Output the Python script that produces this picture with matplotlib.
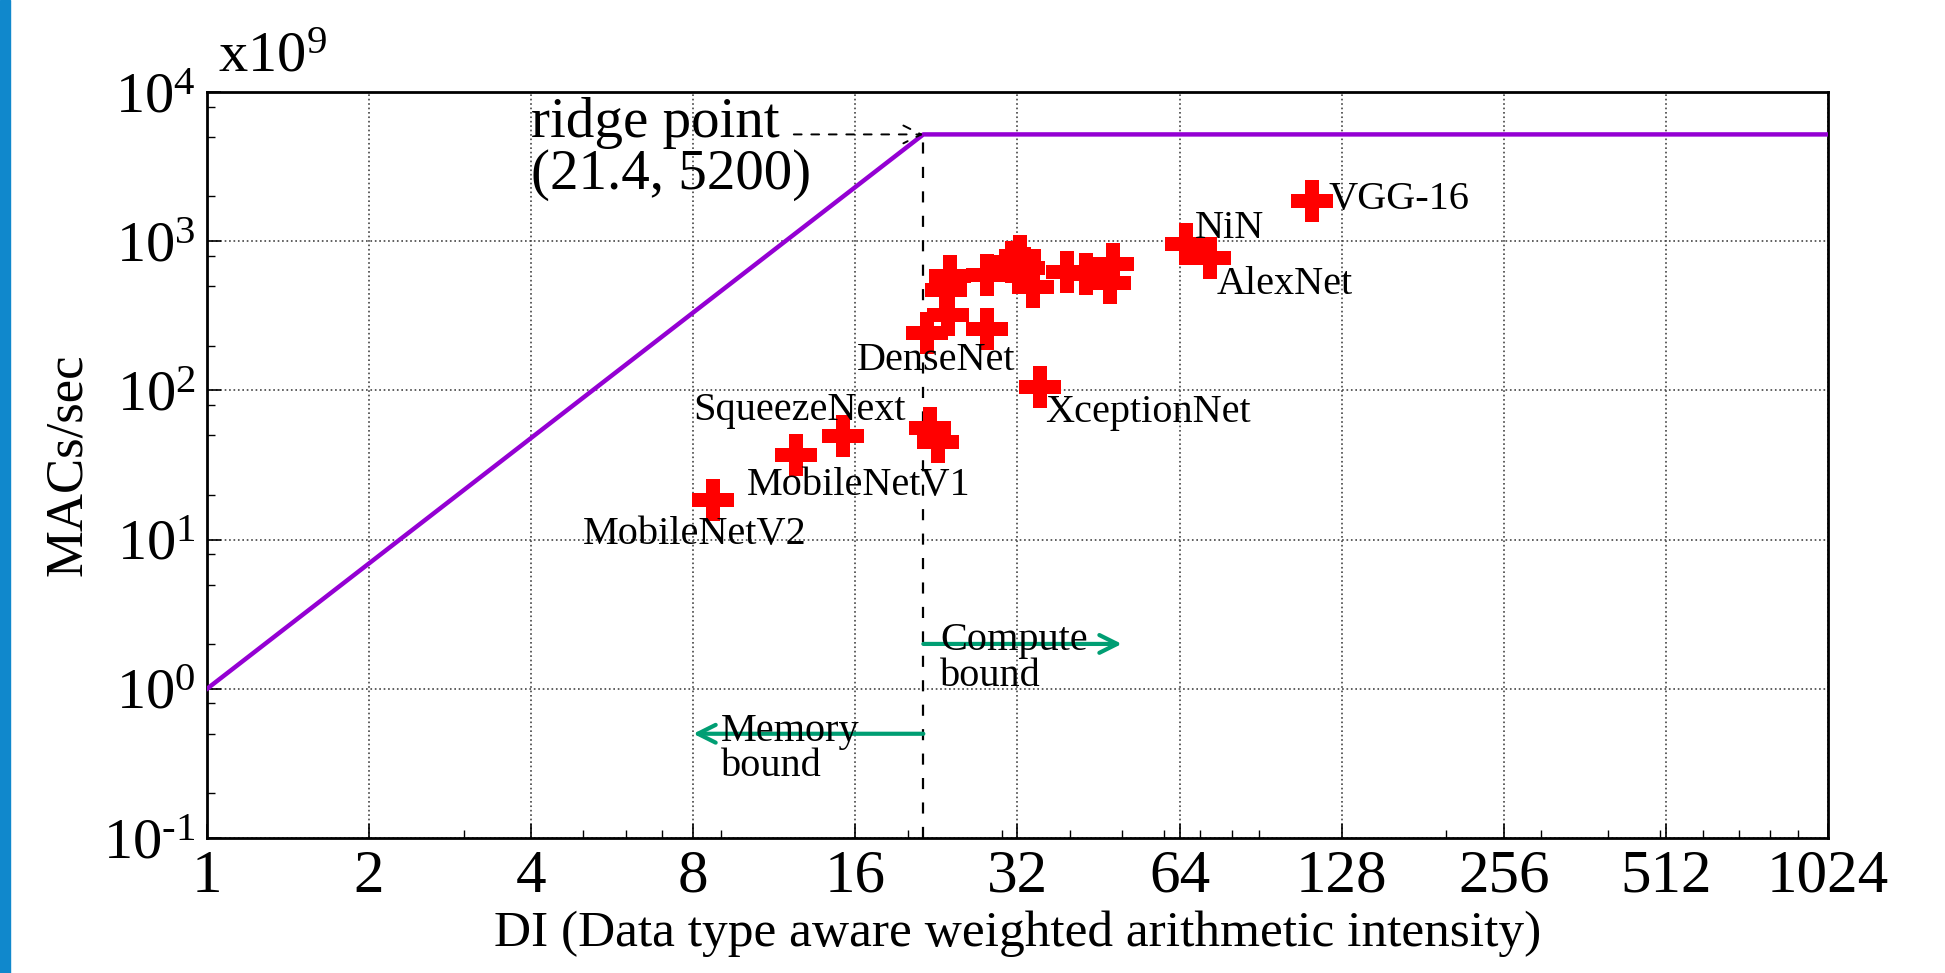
import numpy as np
import matplotlib
matplotlib.use("Agg")
import matplotlib.pyplot as plt
from matplotlib.ticker import LogLocator, NullFormatter
from matplotlib.patches import Rectangle

plt.rcParams['font.family'] = ['Liberation Serif', 'DejaVu Serif']
plt.rcParams['mathtext.fontset'] = 'custom'
plt.rcParams['mathtext.rm'] = 'Liberation Serif'
plt.rcParams['mathtext.it'] = 'Liberation Serif:italic'

# roofline
ridge_di = 21.4
peak = 5200
roof_x = [1, ridge_di, 1024]
roof_y = [1, peak, peak]

# measured layers (DI, MACs/sec in units of 1e9)
di_values = [8.7, 12.4, 15.2, 22.0, 22.75,
             21.7, 23.8, 28.05, 23.98, 23.6, 28.05, 31.3, 32.3, 32.9,
             34.2, 39.5, 42.9, 48.1, 47.6,
             65.7, 72.9, 113, 35.2]
perf_values = [18.3, 36.7, 49.5, 55.7, 45.1,
               243, 318, 259, 582, 469, 590, 722, 793, 657,
               493, 622, 607, 708, 527,
               964, 776, 1858, 105.5]

# network names and where their labels sit (data coords, left edge / baseline)
net_names = ['VGG-16', 'NiN', 'AlexNet', 'XceptionNet', 'DenseNet',
             'SqueezeNext', 'MobileNetV1', 'MobileNetV2']
label_pos = [(120.9, 1656), (68.4, 1057), (75.0, 441), (36.0, 61.4),
             (16.1, 136.5), (8.0, 63.1), (10.05, 19.8), (5.0, 9.4)]

xticks = [1, 2, 4, 8, 16, 32, 64, 128, 256, 512, 1024]
yticks = [0.1, 1, 10, 100, 1000, 10000]
ytick_labels = [r'10$^{\text{-1}}$', '10$^{0}$', '10$^{1}$', '10$^{2}$', '10$^{3}$', '10$^{4}$']

fig = plt.figure(figsize=(19.45, 9.73), dpi=100)
ax = fig.add_axes([0.1064, 0.1387, 0.8334, 0.7667])

# blue strip on the left edge of the slide
fig.patches.append(Rectangle((0, 0), 10 / 1945, 1, transform=fig.transFigure,
                             color='#1088CC', zorder=0))

ax.plot(roof_x, roof_y, color='#9400D3', lw=3.2, zorder=3)
ax.plot([ridge_di, ridge_di], [0.1, peak], color='black', ls=(0, (5, 6)), lw=1.6, zorder=2)
ax.plot(di_values, perf_values, ls='none', marker='P', ms=30, color='red',
        markeredgewidth=0, zorder=4)

for name, (lx, ly) in zip(net_names, label_pos):
    ax.text(lx, ly, name, fontsize=29, va='baseline', ha='left', zorder=5)

# ridge point annotation
ax.text(4.0, 9300, 'ridge point\n(21.4, 5200)', fontsize=41, va='top', ha='left',
        linespacing=1.0, zorder=5)
ax.annotate('', xy=(ridge_di, peak), xytext=(12.3, peak),
            arrowprops=dict(arrowstyle='->', ls=(0, (4, 5)), lw=1.4, color='black',
                            mutation_scale=32, shrinkA=0, shrinkB=0))

# compute / memory bound arrows
green = '#009E73'
ax.annotate('', xy=(50, 2), xytext=(ridge_di, 2),
            arrowprops=dict(arrowstyle='->', lw=3, color=green, mutation_scale=32,
                            shrinkA=0, shrinkB=0))
ax.annotate('', xy=(8, 0.5), xytext=(ridge_di, 0.5),
            arrowprops=dict(arrowstyle='->', lw=3, color=green, mutation_scale=32,
                            shrinkA=0, shrinkB=0))
ax.text(23.0, 2.8, 'Compute\nbound', fontsize=29, va='top', ha='left', linespacing=0.95)
ax.text(9.0, 0.69, 'Memory\nbound', fontsize=29, va='top', ha='left', linespacing=0.95)

ax.set_xscale('log', base=2)
ax.set_yscale('log')
ax.set_xlim(1, 1024)
ax.set_ylim(0.1, 10000)
ax.set_xticks(xticks, [str(t) for t in xticks])
ax.set_yticks(yticks, ytick_labels)
ax.xaxis.set_minor_locator(LogLocator(base=10, subs=np.arange(2, 10)))
ax.xaxis.set_minor_formatter(NullFormatter())
ax.yaxis.set_minor_locator(LogLocator(base=10, subs=(2, 5, 8)))
ax.yaxis.set_minor_formatter(NullFormatter())

ax.tick_params(which='major', direction='in', length=10, width=1.2, labelsize=42, pad=8)
ax.tick_params(axis='x', which='major', labelsize=44)
ax.tick_params(which='minor', direction='in', length=6, width=1.0)
ax.grid(True, which='major', ls=':', color='#444444', lw=1.2)
for s in ax.spines.values():
    s.set_linewidth(2)

ax.text(0.007, 1.012, 'x10$^{9}$', transform=ax.transAxes, fontsize=42, va='bottom', ha='left')
ax.set_xlabel('DI (Data type aware weighted arithmetic intensity)', fontsize=37, labelpad=4)
ax.set_ylabel('MACs/sec', fontsize=38, labelpad=8)

fig.savefig('out.png', dpi=100)
